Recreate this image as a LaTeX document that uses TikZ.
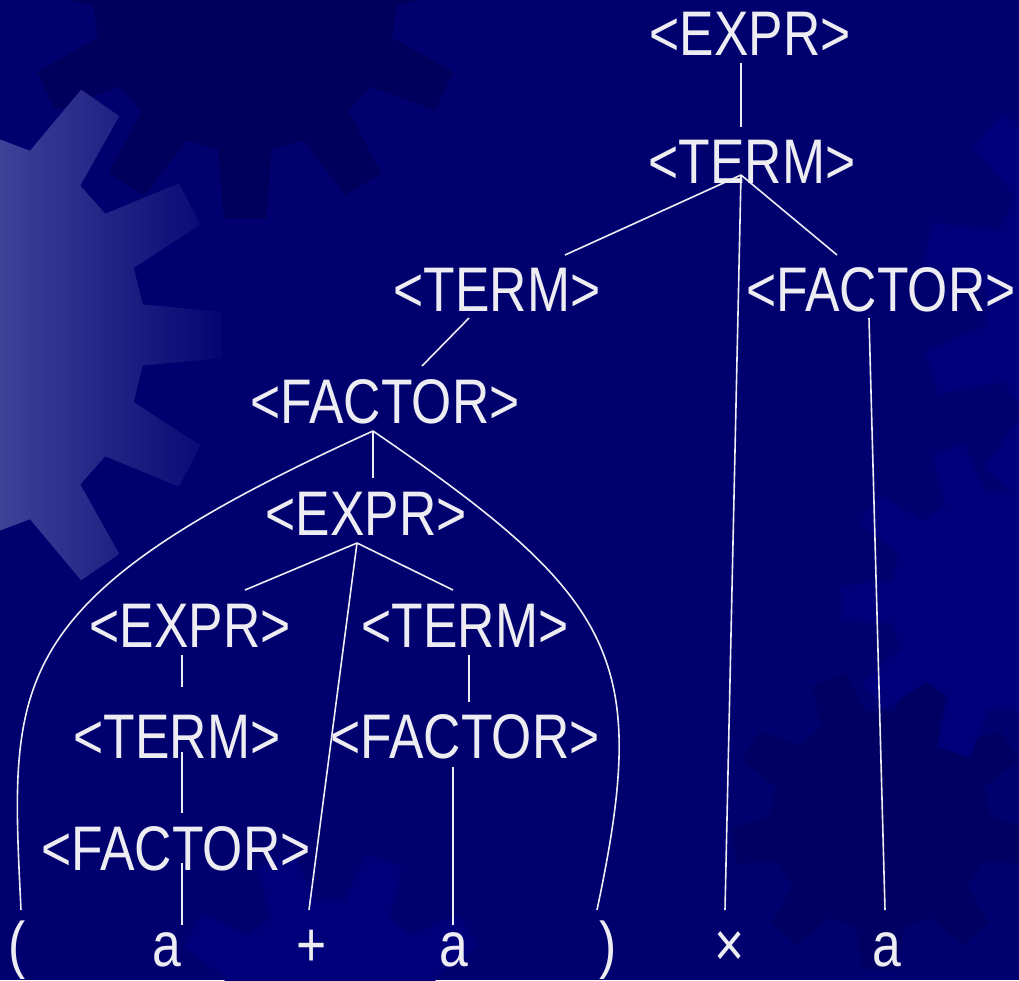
\documentclass[tikz,border=0pt]{standalone}
\usepackage{fontspec}
\setmainfont{Liberation Sans}
\newfontfamily\treefont[FakeStretch=0.82]{Liberation Sans}
\definecolor{bgc}{RGB}{0,0,110}
\definecolor{darkg}{RGB}{0,0,92}
\definecolor{darkg2}{RGB}{0,0,98}
\definecolor{liteg}{RGB}{0,0,122}
\definecolor{gearlight}{RGB}{62,66,152}
\definecolor{txt}{RGB}{236,236,242}
\newcommand{\gearshape}[7]{%
  \pgfmathsetmacro\gp{360/#6}%
  \pgfmathtruncatemacro\gn{#6-1}%
  \pgfmathsetmacro\ga{\gp*0.31}%
  \pgfmathsetmacro\gb{\gp*0.17}%
  \path[#1,shift={(#2,#3)}] ({#7-\ga}:#4)
    \foreach \k in {0,...,\gn}{ -- ({#7+\k*\gp-\ga}:#4) -- ({#7+\k*\gp-\gb}:#5)
      -- ({#7+\k*\gp+\gb}:#5) -- ({#7+\k*\gp+\ga}:#4) } -- cycle;}
\begin{document}
\begin{tikzpicture}[x=1pt,y=-1pt,
  lbl/.style={anchor=base, inner sep=0pt, text=txt,
    font=\treefont\fontsize{63}{70}\selectfont},
  edge/.style={draw=txt, line width=1.6pt}]
\useasboundingbox (0,0) rectangle (1019,980);
\fill[bgc] (0,0) rectangle (1019,980);
% background gears
\gearshape{fill=liteg}{1170}{300}{185}{250}{12}{193}
\gearshape{fill=darkg2}{880}{820}{110}{150}{9}{250}
\gearshape{fill=liteg}{1000}{600}{110}{160}{10}{215}
\gearshape{fill=liteg}{330}{1010}{110}{160}{9}{250}
\gearshape{fill=darkg}{245}{0}{152}{220}{11}{90}
\begin{scope}
  \gearshape{clip}{-60}{335}{205}{283}{13}{0}
  \shade[left color=gearlight, right color=bgc] (0,0) rectangle (240,700);
\end{scope}
% tree nodes
\node[lbl] (e1) at (750,55) {<EXPR>};
\node[lbl] (t1) at (752,183) {<TERM>};
\node[lbl] (t2) at (497,311) {<TERM>};
\node[lbl] (f1) at (881,311) {<FACTOR>};
\node[lbl] (f2) at (385,423) {<FACTOR>};
\node[lbl] (e2) at (366,535) {<EXPR>};
\node[lbl] (e3) at (190,647) {<EXPR>};
\node[lbl] (t3) at (465,647) {<TERM>};
\node[lbl] (t4) at (177,758) {<TERM>};
\node[lbl] (f3) at (465,758) {<FACTOR>};
\node[lbl] (f4) at (176,870) {<FACTOR>};
\node[lbl] (lp) at (17,966) {(};
\node[lbl] (a1) at (167,966) {a};
\node[lbl] (pl) at (312,966) {+};
\node[lbl] (a2) at (454,966) {a};
\node[lbl] (rp) at (608,966) {)};
\node[lbl] (tm) at (730,966) {×};
\node[lbl] (a3) at (887,966) {a};
% connector end points
\coordinate (e1s) at (741,63);   \coordinate (t1n) at (741,127);
\coordinate (t1s) at (741,175);
\coordinate (t2n) at (565,255);  \coordinate (f1n) at (837,255);
\coordinate (tmn) at (725,910);
\coordinate (t2s) at (469,318);  \coordinate (f2n) at (422,366);
\coordinate (f1s) at (869,318);  \coordinate (a3n) at (885,910);
\coordinate (f2s) at (373,431);
\coordinate (lpn) at (21,910);   \coordinate (rpn) at (597,910);
\coordinate (e2n) at (373,478);
\coordinate (e2s) at (357,543);
\coordinate (e3n) at (245,590);  \coordinate (t3n) at (453,590);
\coordinate (pln) at (309,910);
\coordinate (e3s) at (182,655);  \coordinate (t4n) at (182,687);
\coordinate (t3s) at (469,655);  \coordinate (f3n) at (469,702);
\coordinate (t4s) at (182,752);  \coordinate (f4n) at (182,813);
\coordinate (f3s) at (453,767);  \coordinate (a2n) at (453,925);
\coordinate (f4s) at (182,863);  \coordinate (a1n) at (182,925);
% connectors
\draw[edge] (e1s) -- (t1n);
\draw[edge] (t1s) -- (t2n);
\draw[edge] (t1s) -- (tmn);
\draw[edge] (t1s) -- (f1n);
\draw[edge] (t2s) -- (f2n);
\draw[edge] (f1s) -- (a3n);
\draw[edge] (f2s) .. controls (0,600) and (10,680) .. (lpn);
\draw[edge] (f2s) -- (e2n);
\draw[edge] (f2s) .. controls (620,600) and (650,660) .. (rpn);
\draw[edge] (e2s) -- (e3n);
\draw[edge] (e2s) -- (pln);
\draw[edge] (e2s) -- (t3n);
\draw[edge] (e3s) -- (t4n);
\draw[edge] (t3s) -- (f3n);
\draw[edge] (t4s) -- (f4n);
\draw[edge] (f3s) -- (a2n);
\draw[edge] (f4s) -- (a1n);
\end{tikzpicture}
\end{document}
